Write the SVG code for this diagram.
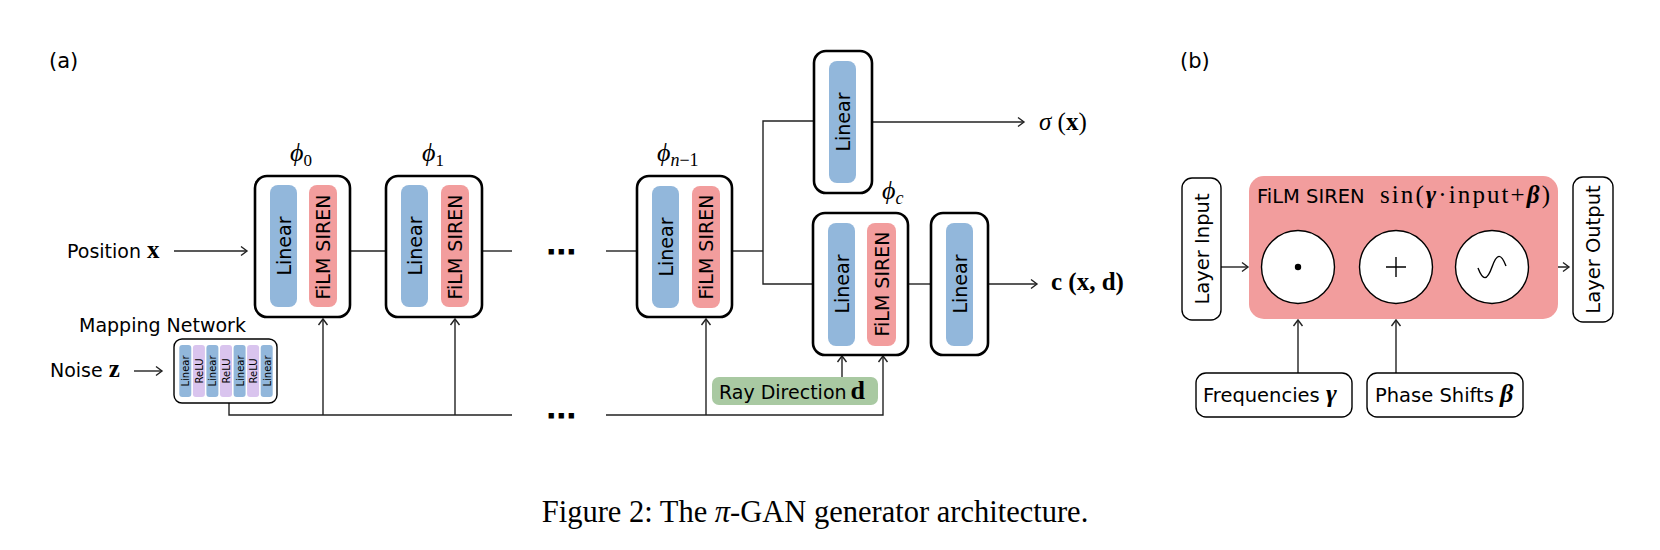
<svg xmlns="http://www.w3.org/2000/svg" width="1660" height="550" viewBox="0 0 1660 550">
<defs>
<style>
.blk{fill:#fff;stroke:#000;stroke-width:2.6}
.lin{fill:#92b7db}
.film{fill:#f29d9d}
.relu{fill:#d9c4ee}
.ray{fill:#a9c9a2}
.box{fill:#fff;stroke:#000;stroke-width:1.4}
.circ{fill:#fff;stroke:#000;stroke-width:1.4}
.t{font-family:"DejaVu Sans",sans-serif;font-size:19px;fill:#000}
.ts{font-family:"DejaVu Sans",sans-serif;font-size:10px;fill:#000}
.m{font-family:"Liberation Serif","DejaVu Serif",serif;fill:#000}
.phi{font-family:"Liberation Serif","DejaVu Serif",serif;font-size:26px;font-style:italic;fill:#000}
.dots{font-family:"DejaVu Sans",sans-serif;font-size:30px;font-weight:bold;fill:#000}
.ln{stroke:#222;stroke-width:1.4;fill:none}
.arr{marker-end:url(#ah)}
</style>
<marker id="ah" markerUnits="userSpaceOnUse" markerWidth="12" markerHeight="12" refX="10" refY="6" orient="auto">
<path d="M4,1.5 L10,6 L4,10.5" fill="none" stroke="#222" stroke-width="1.4"/>
</marker>
</defs>
<rect width="1660" height="550" fill="#fff"/>

<text class="t" x="49" y="68" style="font-size:21px">(a)</text>
<text class="t" x="1180" y="68" style="font-size:21px">(b)</text>

<g id="connectors">
<line class="ln arr" x1="174" y1="251" x2="247" y2="251"/>
<line class="ln" x1="350" y1="251" x2="386" y2="251"/>
<line class="ln" x1="482" y1="251" x2="512" y2="251"/>
<line class="ln" x1="606" y1="251" x2="637" y2="251"/>
<line class="ln" x1="732" y1="251" x2="763" y2="251"/>
<polyline class="ln" points="814,121 763,121 763,284 813,284"/>
<line class="ln arr" x1="872" y1="122" x2="1024" y2="122"/>
<line class="ln" x1="908" y1="284" x2="931" y2="284"/>
<line class="ln arr" x1="988" y1="284" x2="1037" y2="284"/>
<line class="ln arr" x1="134" y1="371" x2="162" y2="371"/>
<polyline class="ln" points="229,403 229,415 512,415"/>
<polyline class="ln arr" points="606,415 883,415 883,356"/>
<line class="ln arr" x1="323" y1="415" x2="323" y2="319"/>
<line class="ln arr" x1="455" y1="415" x2="455" y2="319"/>
<line class="ln arr" x1="706" y1="415" x2="706" y2="319"/>
<line class="ln arr" x1="842" y1="377" x2="842" y2="356"/>
<line class="ln arr" x1="1221" y1="267" x2="1248" y2="267"/>
<line class="ln arr" x1="1335" y1="267" x2="1359" y2="267"/>
<line class="ln arr" x1="1433" y1="267" x2="1455" y2="267"/>
<line class="ln arr" x1="1529" y1="267" x2="1569" y2="267"/>
<line class="ln arr" x1="1298" y1="373" x2="1298" y2="320"/>
<line class="ln arr" x1="1396" y1="373" x2="1396" y2="320"/>
</g>

<text class="dots" x="546" y="262">⋯</text>
<text class="dots" x="546" y="426">⋯</text>

<g id="position-input">
<text class="t" x="67" y="258">Position <tspan class="m" font-weight="bold" font-size="25">x</tspan></text>
</g>
<g id="noise-input">
<text class="t" x="50" y="377">Noise <tspan class="m" font-weight="bold" font-size="25">z</tspan></text>
</g>

<g id="mapping-network">
<text class="t" x="79" y="332">Mapping Network</text>
<rect class="box" x="174" y="339" width="103" height="64" rx="8"/>
<rect class="lin" x="179.3" y="345" width="12" height="52" rx="3"/>
<rect class="relu" x="192.9" y="345" width="12" height="52" rx="3"/>
<rect class="lin" x="206.4" y="345" width="12" height="52" rx="3"/>
<rect class="relu" x="220" y="345" width="12" height="52" rx="3"/>
<rect class="lin" x="233.6" y="345" width="12" height="52" rx="3"/>
<rect class="relu" x="247.1" y="345" width="12" height="52" rx="3"/>
<rect class="lin" x="260.7" y="345" width="12" height="52" rx="3"/>
<g text-anchor="middle">
<text class="ts" transform="translate(189.2,371) rotate(-90)">Linear</text>
<text class="ts" transform="translate(202.8,371) rotate(-90)">ReLU</text>
<text class="ts" transform="translate(216.3,371) rotate(-90)">Linear</text>
<text class="ts" transform="translate(229.9,371) rotate(-90)">ReLU</text>
<text class="ts" transform="translate(243.5,371) rotate(-90)">Linear</text>
<text class="ts" transform="translate(257,371) rotate(-90)">ReLU</text>
<text class="ts" transform="translate(270.6,371) rotate(-90)">Linear</text>
</g>
</g>

<g id="phi0">
<text class="phi" x="290" y="161">ϕ<tspan font-size="17" font-style="normal" dy="5">0</tspan></text>
<rect class="blk" x="255" y="176" width="95" height="141" rx="12"/>
<rect class="lin" x="270" y="185" width="27" height="122" rx="8"/>
<rect class="film" x="309" y="185" width="28" height="122" rx="8"/>
<text class="t" text-anchor="middle" transform="translate(290.5,246) rotate(-90)">Linear</text>
<text class="t" text-anchor="middle" transform="translate(330,247) rotate(-90)">FiLM SIREN</text>
</g>

<g id="phi1">
<text class="phi" x="422" y="161">ϕ<tspan font-size="17" font-style="normal" dy="5">1</tspan></text>
<rect class="blk" x="386" y="176" width="96" height="141" rx="12"/>
<rect class="lin" x="401" y="185" width="27" height="122" rx="8"/>
<rect class="film" x="441" y="185" width="28" height="122" rx="8"/>
<text class="t" text-anchor="middle" transform="translate(421.5,246) rotate(-90)">Linear</text>
<text class="t" text-anchor="middle" transform="translate(462,247) rotate(-90)">FiLM SIREN</text>
</g>

<g id="phin1">
<text class="phi" x="657" y="161">ϕ<tspan font-size="18" dy="5">n</tspan><tspan font-size="18" font-style="normal">−1</tspan></text>
<rect class="blk" x="637" y="176" width="95" height="141" rx="12"/>
<rect class="lin" x="652" y="186" width="27" height="122" rx="8"/>
<rect class="film" x="692" y="186" width="28" height="122" rx="8"/>
<text class="t" text-anchor="middle" transform="translate(672.5,247) rotate(-90)">Linear</text>
<text class="t" text-anchor="middle" transform="translate(713,247) rotate(-90)">FiLM SIREN</text>
</g>

<g id="sigma-linear">
<rect class="blk" x="814" y="51" width="58" height="142" rx="12"/>
<rect class="lin" x="829" y="61" width="27" height="122" rx="8"/>
<text class="t" text-anchor="middle" transform="translate(849.5,122) rotate(-90)">Linear</text>
</g>
<g id="sigma-out">
<text class="m" x="1039" y="130" font-size="25"><tspan font-style="italic">σ</tspan> (<tspan font-weight="bold">x</tspan>)</text>
</g>

<g id="phic">
<text class="phi" x="882" y="199">ϕ<tspan font-size="18" dy="5">c</tspan></text>
<rect class="blk" x="813" y="213" width="95" height="142" rx="12"/>
<rect class="lin" x="828" y="223" width="27" height="123" rx="8"/>
<rect class="film" x="867" y="223" width="29" height="123" rx="8"/>
<text class="t" text-anchor="middle" transform="translate(848.5,284) rotate(-90)">Linear</text>
<text class="t" text-anchor="middle" transform="translate(888.5,284) rotate(-90)">FiLM SIREN</text>
</g>

<g id="color-linear">
<rect class="blk" x="931" y="213" width="57" height="142" rx="12"/>
<rect class="lin" x="946" y="223" width="27" height="123" rx="8"/>
<text class="t" text-anchor="middle" transform="translate(966.5,284) rotate(-90)">Linear</text>
</g>
<g id="color-out">
<text class="m" x="1051" y="290" font-size="25" font-weight="bold">c (x, d)</text>
</g>

<g id="ray-direction">
<rect class="ray" x="712" y="377" width="166" height="28" rx="7"/>
<text class="t" x="719" y="399">Ray Direction<tspan class="m" font-weight="bold" font-size="26" dx="4">d</tspan></text>
</g>

<g id="layer-input">
<rect class="box" x="1182" y="178" width="39" height="142" rx="10"/>
<text class="t" text-anchor="middle" style="font-size:19.5px" transform="translate(1209,249) rotate(-90)">Layer Input</text>
</g>

<g id="film-siren">
<rect x="1249" y="176" width="309" height="143" rx="15" fill="#f29d9d"/>
<text class="t" x="1257" y="203" style="font-size:19.5px">FiLM SIREN</text>
<text class="m" x="1380" y="203" font-size="25" textLength="170" lengthAdjust="spacing">sin(<tspan font-weight="bold" font-style="italic">γ</tspan>·input+<tspan font-weight="bold" font-style="italic">β</tspan>)</text>
<g id="mult">
<circle class="circ" cx="1298" cy="267" r="36.5"/>
<circle cx="1298" cy="267" r="3.2" fill="#000"/>
</g>
<g id="add">
<circle class="circ" cx="1396" cy="267" r="36.5"/>
<path d="M1386,267 H1406 M1396,257 V277" stroke="#000" stroke-width="1.4"/>
</g>
<g id="sine">
<circle class="circ" cx="1492" cy="267" r="36.5"/>
<path d="M1478,268 C1483,281 1487,281 1492,267 C1497,253 1501,253 1506,266" fill="none" stroke="#000" stroke-width="1.4"/>
</g>
</g>

<g id="layer-output">
<rect class="box" x="1573" y="177" width="40" height="145" rx="10"/>
<text class="t" text-anchor="middle" style="font-size:19.5px" transform="translate(1600,249.5) rotate(-90)">Layer Output</text>
</g>

<g id="frequencies">
<rect class="box" x="1196" y="373" width="156" height="44" rx="10"/>
<text class="t" x="1203" y="402" style="font-size:19.5px">Frequencies <tspan class="m" font-weight="bold" font-style="italic" font-size="26">γ</tspan></text>
</g>
<g id="phase-shifts">
<rect class="box" x="1367" y="373" width="156" height="44" rx="10"/>
<text class="t" x="1375" y="402" style="font-size:19.5px">Phase Shifts <tspan class="m" font-weight="bold" font-style="italic" font-size="26">β</tspan></text>
</g>

<text class="m" x="815" y="522" font-size="30.5" text-anchor="middle">Figure 2: The <tspan font-style="italic">π</tspan>-GAN generator architecture.</text>
</svg>
